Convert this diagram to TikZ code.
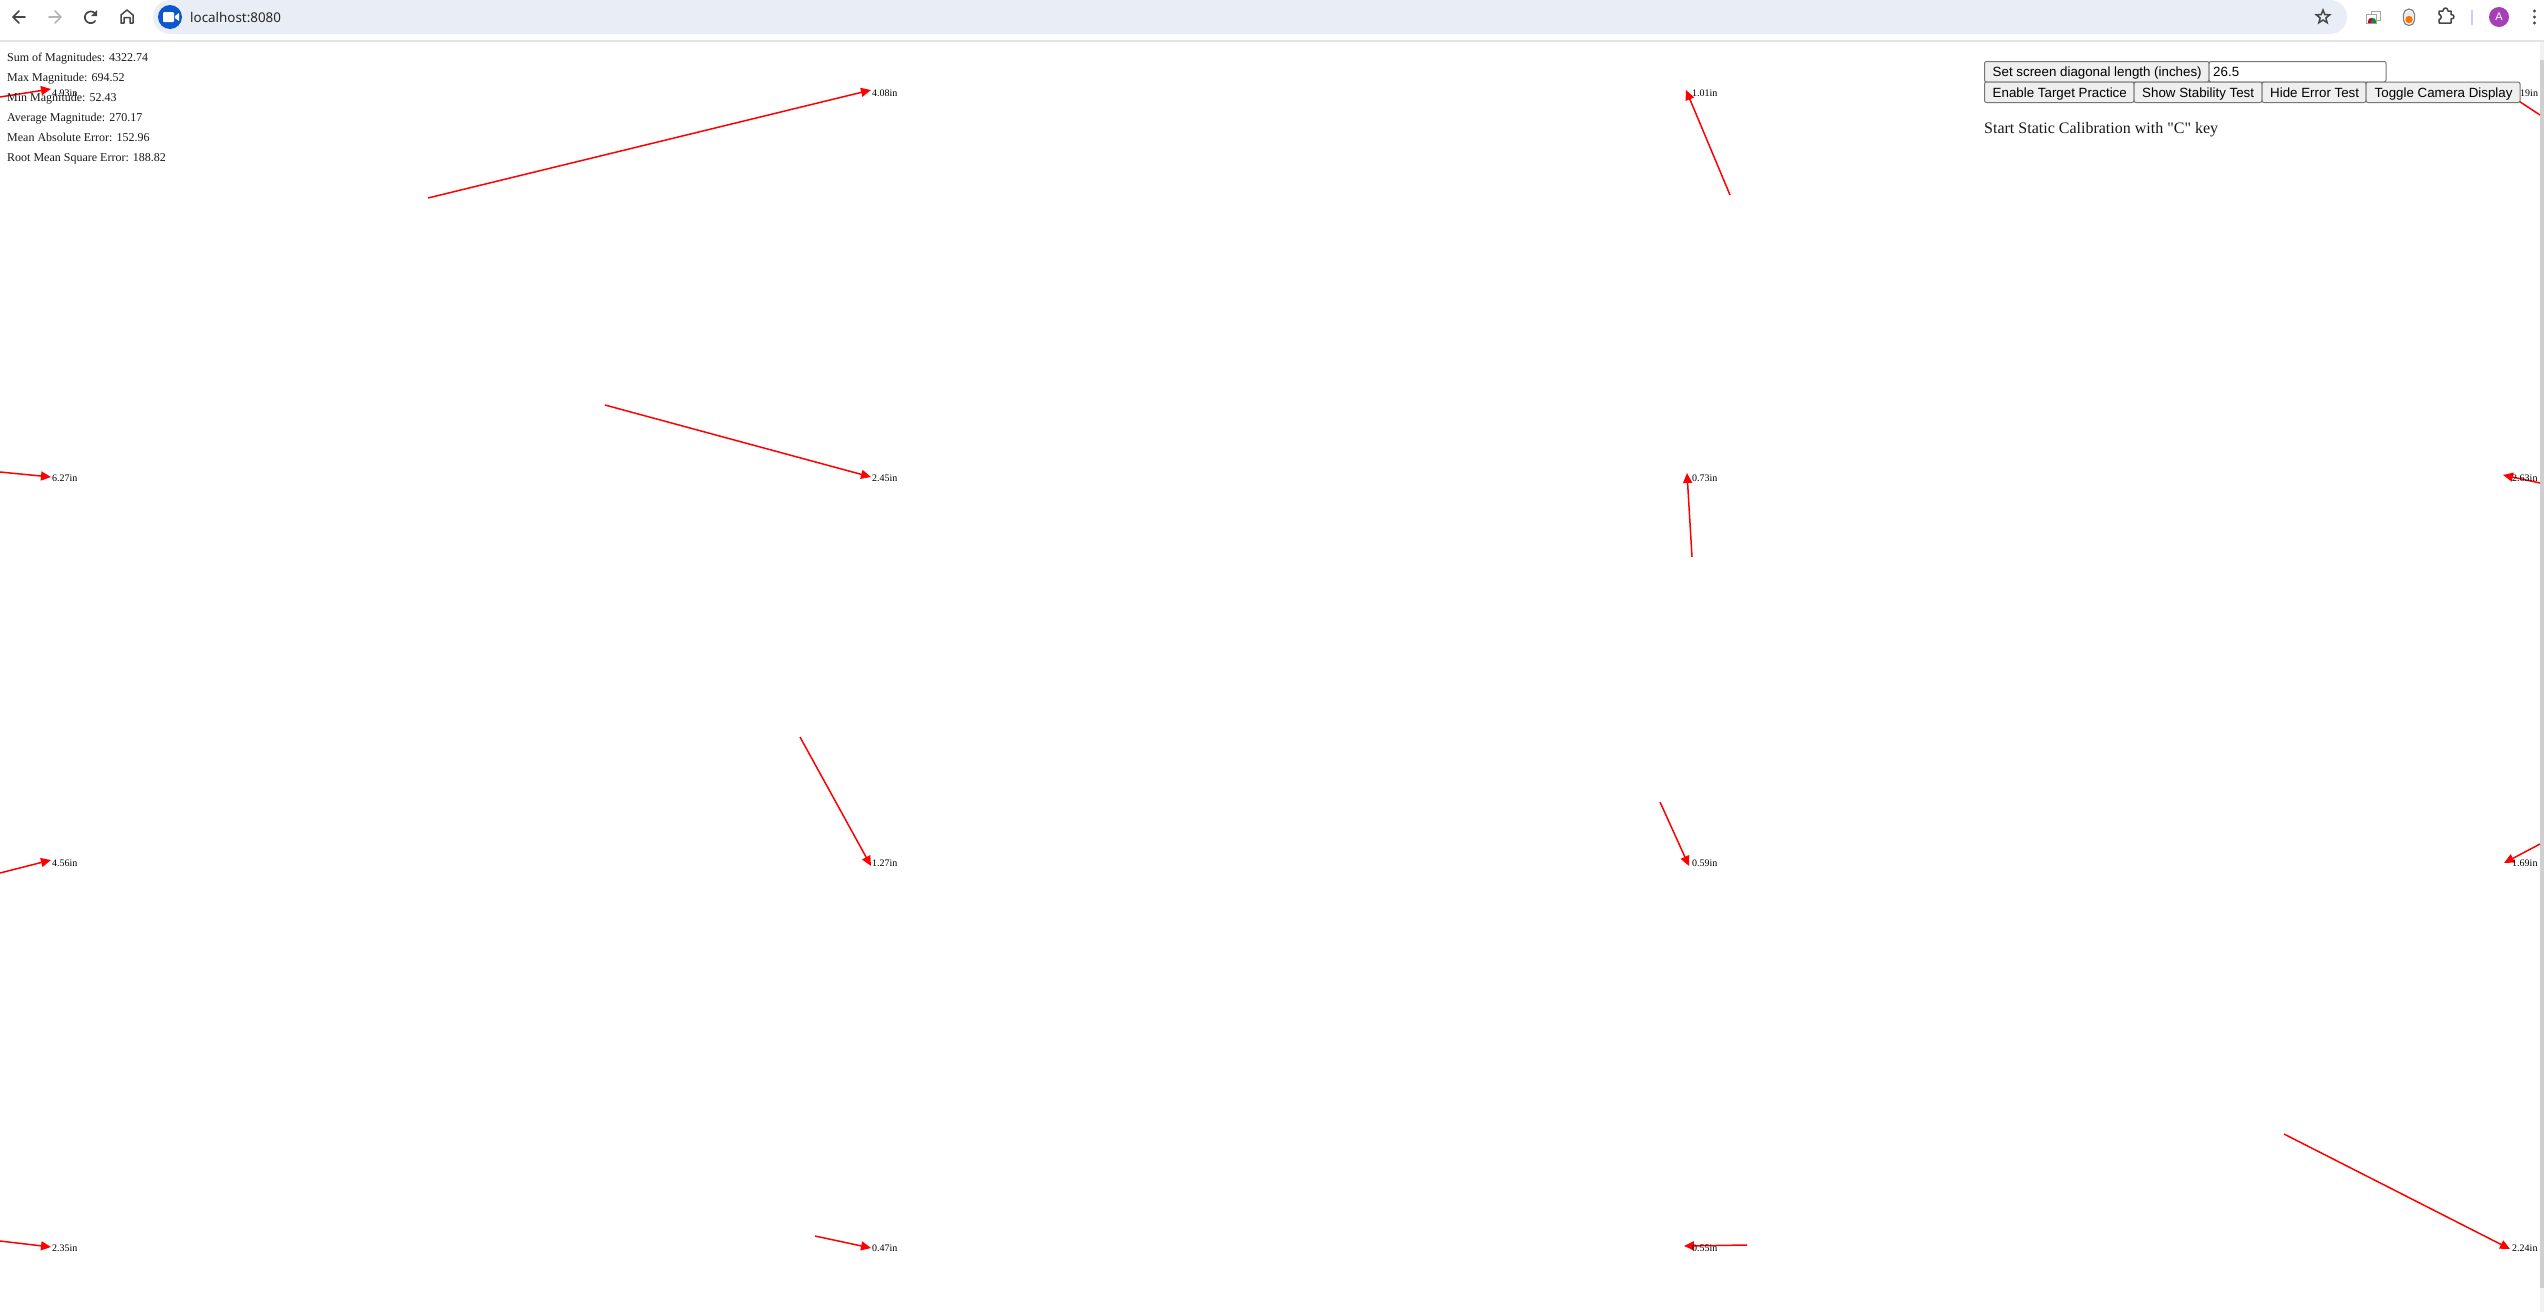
\documentclass[tikz,border=0pt]{standalone}
\usepackage{fontspec}
\setmainfont{Liberation Serif}
\newfontfamily\plainserif{Liberation Serif}
\newfontfamily\uisans{Liberation Sans}
\newfontfamily\urlfont{Noto Sans}
\usetikzlibrary{arrows.meta,shapes.geometric}
\definecolor{pill}{HTML}{E9EEF6}
\definecolor{sepgray}{HTML}{E3E3E3}
\definecolor{icongray}{HTML}{474747}
\definecolor{icondis}{HTML}{B4B4B4}
\definecolor{chromeblue}{HTML}{0B57D0}
\definecolor{avatar}{HTML}{A63FB5}
\definecolor{btnfill}{HTML}{EFEFEF}
\definecolor{btnline}{HTML}{767676}
\definecolor{sbar}{HTML}{CFCFCF}
\definecolor{strack}{HTML}{F1F1F1}
\tikzset{
  x=1pt,y=-1pt,
  errarrow/.style={draw=red,line width=1.5pt,-{Triangle[length=10pt,width=9pt]}},
  errlabel/.style={anchor=base west,inner sep=0pt,font=\fontsize{10}{12}\selectfont,text=black},
  statline/.style={anchor=base west,inner sep=0pt,font=\fontsize{12}{14}\selectfont,text=black!90},
  btn/.style={draw=btnline,fill=btnfill,rounded corners=2pt,line width=1pt},
  btntext/.style={anchor=base west,inner sep=0pt,font=\uisans\fontsize{13.33}{15}\selectfont,text=black},
  icon/.style={draw=icongray,line width=1.7pt,line cap=round,line join=round},
  icondim/.style={draw=icondis,line width=1.7pt,line cap=round,line join=round},
}
\begin{document}
\begin{tikzpicture}
\useasboundingbox (0,0) rectangle (2544,1312);
\fill[white] (0,0) rectangle (2544,1312);

% --- browser bar
\fill[sepgray] (0,40) rectangle (2544,41.5);
\fill[pill,rounded corners=17pt] (153,0) rectangle (2347,34);
\fill[chromeblue] (170,17) circle[radius=12];
\fill[white,rounded corners=1pt] (163,12) rectangle (174,22);
\fill[white] (175,16) -- (179,13) -- (179,21) -- (175,18) -- cycle;
\node[anchor=base west,inner sep=0pt,font=\urlfont\fontsize{13.4}{16}\selectfont,text=black!85] (url) at (190,22) {localhost:8080};
% back
\draw[icon] (25,17) -- (13,17) (19,11) -- (13,17) -- (19,23);
% forward
\draw[icondim] (49,17) -- (61,17) (55,11) -- (61,17) -- (55,23);
% reload
\draw[icon] plot[smooth,domain=35:320,samples=24] ({90.7+5.8*cos(\x)},{17.3-5.8*sin(\x)});
\fill[icongray] (97,10) -- (97,16) -- (91,16) -- cycle;
% home
\draw[icon,line width=1.5pt] (121,23) -- (121,15) -- (127,10) -- (133,15) -- (133,23) -- (130,23) -- (130,17.5) -- (124,17.5) -- (124,23) -- cycle;
% star
\node[star,star points=5,star point ratio=2.3,draw=icongray,line width=1.5pt,minimum size=14pt,inner sep=0pt] (staricon) at (2323,17) {};
% tabs icon
\draw[draw=gray!70,line width=1pt] (2371,11) rectangle (2380,20);
\fill[white,draw=gray!70,line width=1pt] (2366.5,14) rectangle (2376,23);
\fill[red!80!black] (2368,23) .. controls (2368,18) and (2370,18) .. (2372,18) -- (2372,23) -- cycle;
\fill[green!60!black] (2376,23) .. controls (2376,18) and (2374,18) .. (2372,18) -- (2372,23) -- cycle;
\fill[blue!70] (2372,21.5) circle[radius=1.7];
% toggle
\draw[draw=gray,line width=1.2pt,rounded corners=5.5pt] (2403.5,9) rectangle (2414.5,25.5);
\fill[gray!15,rounded corners=4pt] (2405,10.5) rectangle (2413,24);
\fill[orange!90!red] (2409,19.5) circle[radius=3.7];
% puzzle
\draw[icon,line width=1.5pt] (2439,11) -- (2443,11) .. controls (2443,7) and (2448,7) .. (2448,11) -- (2451,11) -- (2451,14.5) .. controls (2455,14.5) and (2455,19) .. (2451,19) -- (2451,23) -- (2439,23) -- (2439,19.5) .. controls (2442,19.5) and (2442,14.5) .. (2439,14.5) -- cycle;
% separator
\draw[draw=blue!20,line width=1.2pt] (2472,10) -- (2472,25);
% avatar
\node[circle,fill=avatar,minimum size=20pt,inner sep=0pt,text=white,font=\uisans\fontsize{11}{12}\selectfont] (avatarc) at (2499,17) {A};
% kebab
\fill[icongray] (2534.5,11) circle[radius=1.7] (2534.5,17) circle[radius=1.7] (2534.5,23) circle[radius=1.7];

% --- scrollbar
\fill[strack] (2540,41.5) rectangle (2544,1312);
\fill[sbar] (2540,60) rectangle (2544,1288);

% --- arrows
\foreach \nm/\tx/\ty/\hx/\hy in {
  a/0/97/51/89, b/428/198/871/90, c/1730/195/1686/90, d/2540/115/2505/92,
  e/0/472/51/477, f/605/405/871/477, g/1692/557/1687/473, h/2540/483/2503/475,
  i/0/873/51/860, j/800/737/871/866, k/1660/802/1689/866, l/2540/844/2504/863,
  m/0/1241/51/1247, n/815/1236/871/1248, o/1747/1245/1684/1246, p/2284/1134/2510/1249}{
  \coordinate (t\nm) at (\tx,\ty);
  \coordinate (h\nm) at (\hx,\hy);
  \draw[errarrow] (t\nm) -- (h\nm);
}

% --- arrow labels
\node[errlabel] (la) at (52,96) {4.93in};
\node[errlabel] (lb) at (872,96) {4.08in};
\node[errlabel] (lc) at (1692,96) {1.01in};
\node[errlabel] (le) at (52,481) {6.27in};
\node[errlabel] (lf) at (872,481) {2.45in};
\node[errlabel] (lg) at (1692,481) {0.73in};
\node[errlabel] (lh) at (2512,481) {2.63in};
\node[errlabel] (li) at (52,866) {4.56in};
\node[errlabel] (lj) at (872,866) {1.27in};
\node[errlabel] (lk) at (1692,866) {0.59in};
\node[errlabel] (ll) at (2512,866) {1.69in};
\node[errlabel] (lm) at (52,1251) {2.35in};
\node[errlabel] (ln) at (872,1251) {0.47in};
\node[errlabel] (lo) at (1692,1251) {0.55in};
\node[errlabel] (lp) at (2512,1251) {2.24in};
\node[errlabel] (ld) at (2520,96) {19in};

% --- stats
\node[statline] (s1) at (7,61) {Sum of Magnitudes: 4322.74};
\node[statline] (s2) at (7,81) {Max Magnitude: 694.52};
\node[statline] (s3) at (7,101) {Min Magnitude: 52.43};
\node[statline] (s4) at (7,121) {Average Magnitude: 270.17};
\node[statline] (s5) at (7,141) {Mean Absolute Error: 152.96};
\node[statline] (s6) at (7,161) {Root Mean Square Error: 188.82};

% --- controls
\draw[btn] (1984.5,61.5) rectangle (2209,82);
\draw[draw=btnline,fill=white,rounded corners=2pt,line width=1pt] (2209,61.5) rectangle (2386,82);
\draw[btn] (1984.5,82) rectangle (2134,102.5);
\draw[btn] (2134,82) rectangle (2262,102.5);
\draw[btn] (2262,82) rectangle (2366,102.5);
\draw[btn] (2366,82) rectangle (2520,102.5);
\node[btntext] (b1) at (1992.5,76.5) {Set screen diagonal length (inches)};
\node[btntext] (b2) at (2213,76.5) {26.5};
\node[btntext] (b3) at (1992.5,97) {Enable Target Practice};
\node[btntext] (b4) at (2142,97) {Show Stability Test};
\node[btntext] (b5) at (2270,97) {Hide Error Test};
\node[btntext] (b6) at (2374.5,97) {Toggle Camera Display};
\node[anchor=base west,inner sep=0pt,font=\plainserif\fontsize{16}{18}\selectfont,text=black!90] (calib) at (1984,133) {Start Static Calibration with "C" key};
\end{tikzpicture}
\end{document}
